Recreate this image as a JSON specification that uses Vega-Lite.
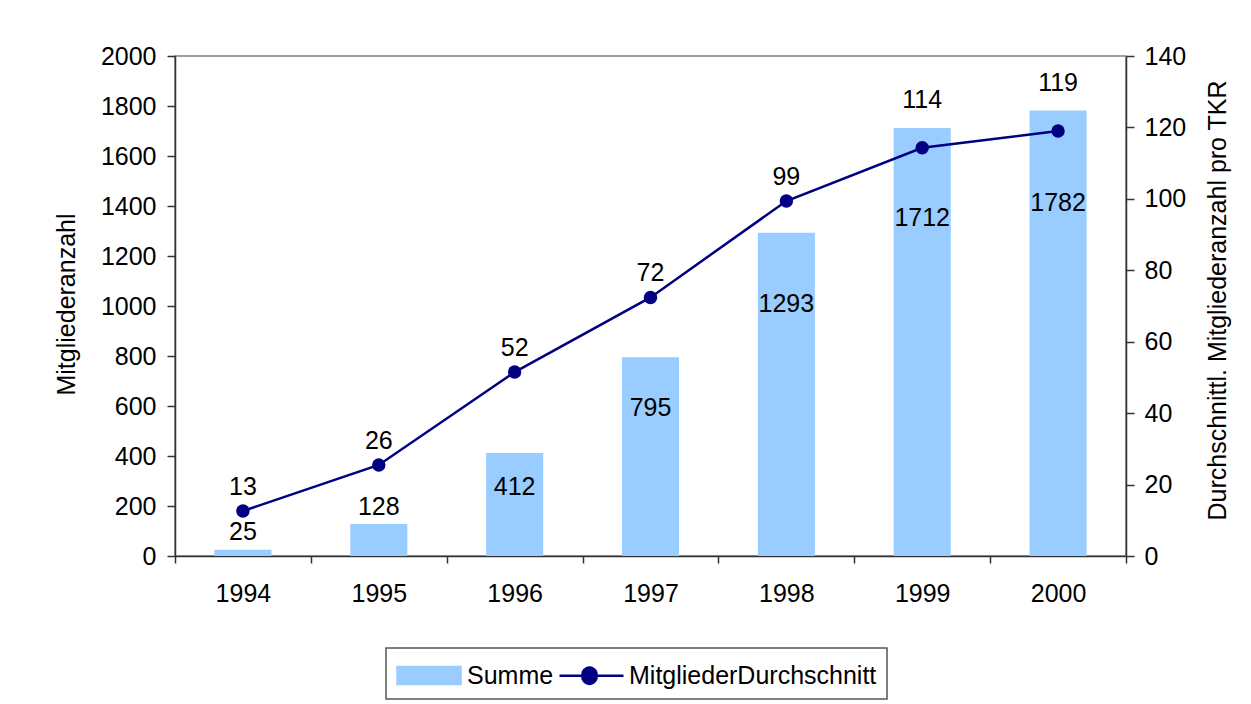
{
  "$schema": "https://vega.github.io/schema/vega-lite/v6.json",
  "width": 951,
  "height": 500,
  "autosize": {"type": "none"},
  "padding": {"left": 175, "top": 56, "right": 125, "bottom": 148},
  "background": "white",
  "config": {
    "font": "Liberation Sans",
    "view": {"stroke": "#808080", "strokeWidth": 1.5},
    "axis": {
      "labelFont": "Liberation Sans",
      "labelFontSize": 25,
      "labelColor": "black",
      "titleFont": "Liberation Sans",
      "titleFontSize": 25,
      "titleFontWeight": "normal",
      "titleColor": "black",
      "domainColor": "#333333",
      "domainWidth": 1.5,
      "tickColor": "#333333",
      "tickWidth": 1.5,
      "grid": false
    },
    "legend": {
      "labelFont": "Liberation Sans",
      "labelFontSize": 25,
      "labelColor": "black",
      "labelLimit": 500
    }
  },
  "data": {
    "values": [
      {"Jahr": "1994", "Summe": 25, "Schnitt": 12.6},
      {"Jahr": "1995", "Summe": 128, "Schnitt": 25.5},
      {"Jahr": "1996", "Summe": 412, "Schnitt": 51.5},
      {"Jahr": "1997", "Summe": 795, "Schnitt": 72.4},
      {"Jahr": "1998", "Summe": 1293, "Schnitt": 99.4},
      {"Jahr": "1999", "Summe": 1712, "Schnitt": 114.3},
      {"Jahr": "2000", "Summe": 1782, "Schnitt": 119}
    ]
  },
  "encoding": {
    "x": {
      "field": "Jahr",
      "type": "ordinal",
      "scale": {"paddingInner": 0, "paddingOuter": 0},
      "axis": {
        "title": null,
        "labelAngle": 0,
        "tickBand": "extent",
        "tickSize": 7,
        "labelPadding": 18,
        "encode": {"ticks": {"update": {"y": {"value": -8}}}}
      }
    }
  },
  "layer": [
    {
      "mark": {"type": "bar", "width": {"band": 0.42}},
      "encoding": {
        "y": {
          "field": "Summe",
          "type": "quantitative",
          "scale": {"domain": [0, 2000], "nice": false},
          "axis": {
            "orient": "left",
            "title": "Mitgliederanzahl",
            "format": "d",
            "values": [0, 200, 400, 600, 800, 1000, 1200, 1400, 1600, 1800, 2000],
            "tickSize": 8,
            "labelPadding": 11,
            "titleAngle": -90,
            "titleBaseline": "alphabetic",
            "titleAlign": "center",
            "titleX": -101,
            "titleY": 248,
            "encode": {"ticks": {"update": {"x": {"value": 8}}}}
          }
        },
        "color": {
          "datum": "Summe",
          "type": "nominal",
          "scale": {"domain": ["Summe", "MitgliederDurchschnitt"], "range": ["#99CCFF", "#000080"]},
          "legend": {
            "title": null,
            "orient": "none",
            "direction": "horizontal",
            "legendX": 211,
            "legendY": 592,
            "padding": 10,
            "strokeColor": "#555555",
            "fillColor": "white",
            "symbolSize": 1024,
            "labelOffset": 36,
            "labelLimit": 500,
            "columnPadding": 0,
            "symbolStrokeWidth": 2.5,
            "encode": {
              "symbols": {
                "update": {
                  "shape": {"signal": "datum.value === 'Summe' ? 'M-1,-0.53H2.94V0.53H-1Z' : 'M-1,0H3M0.44,0A0.44,0.44,0,1,1,1.31,0A0.44,0.44,0,1,1,0.44,0Z'"},
                  "fill": {"signal": "datum.value === 'Summe' ? '#99CCFF' : '#000080'"},
                  "stroke": {"signal": "datum.value === 'Summe' ? 'transparent' : '#000080'"},
                  "strokeWidth": {"value": 2.5},
                  "opacity": {"value": 1},
                  "fillOpacity": {"value": 1}
                }
              },
              "legend": {"update": {"strokeWidth": {"value": 1.5}}}
            }
          }
        }
      }
    },
    {
      "mark": {"type": "line", "strokeWidth": 2.5, "point": {"filled": true, "size": 180}},
      "encoding": {
        "y": {
          "field": "Schnitt",
          "type": "quantitative",
          "scale": {"domain": [0, 140], "nice": false},
          "axis": {
            "orient": "right",
            "title": "Durchschnittl. Mitgliederanzahl pro TKR",
            "values": [0, 20, 40, 60, 80, 100, 120, 140],
            "tickSize": 8,
            "labelPadding": 10,
            "titleAngle": -90,
            "titleBaseline": "alphabetic",
            "titleAlign": "center",
            "titleX": 99,
            "titleY": 244,
            "encode": {"ticks": {"update": {"x": {"value": -8}}}}
          }
        },
        "color": {"datum": "MitgliederDurchschnitt", "type": "nominal"}
      }
    },
    {
      "transform": [{"filter": "datum.Summe >= 300"}],
      "mark": {"type": "text", "fontSize": 25, "baseline": "middle", "color": "black"},
      "encoding": {
        "y": {
          "field": "Summe",
          "type": "quantitative",
          "scale": {"domain": [79, 2492], "zero": false, "nice": false},
          "axis": null
        },
        "text": {"field": "Summe", "type": "quantitative", "format": "d"}
      }
    },
    {
      "transform": [{"filter": "datum.Summe < 300"}],
      "mark": {"type": "text", "fontSize": 25, "baseline": "middle", "color": "black", "dy": -17.5},
      "encoding": {
        "y": {
          "field": "Summe",
          "type": "quantitative",
          "scale": {"domain": [0, 2000], "nice": false},
          "axis": null
        },
        "text": {"field": "Summe", "type": "quantitative", "format": "d"}
      }
    },
    {
      "transform": [{"filter": "datum.Jahr <= '1998'"}],
      "mark": {"type": "text", "fontSize": 25, "baseline": "middle", "color": "black", "dy": -24},
      "encoding": {
        "y": {
          "field": "Schnitt",
          "type": "quantitative",
          "scale": {"domain": [0, 140], "nice": false},
          "axis": null
        },
        "text": {"field": "Schnitt", "type": "quantitative", "format": ".0f"}
      }
    },
    {
      "transform": [{"filter": "datum.Jahr >= '1999'"}],
      "mark": {"type": "text", "fontSize": 25, "baseline": "middle", "color": "black", "dy": -48},
      "encoding": {
        "y": {
          "field": "Schnitt",
          "type": "quantitative",
          "scale": {"domain": [0, 140], "nice": false},
          "axis": null
        },
        "text": {"field": "Schnitt", "type": "quantitative", "format": ".0f"}
      }
    }
  ],
  "resolve": {"scale": {"y": "independent"}}
}
